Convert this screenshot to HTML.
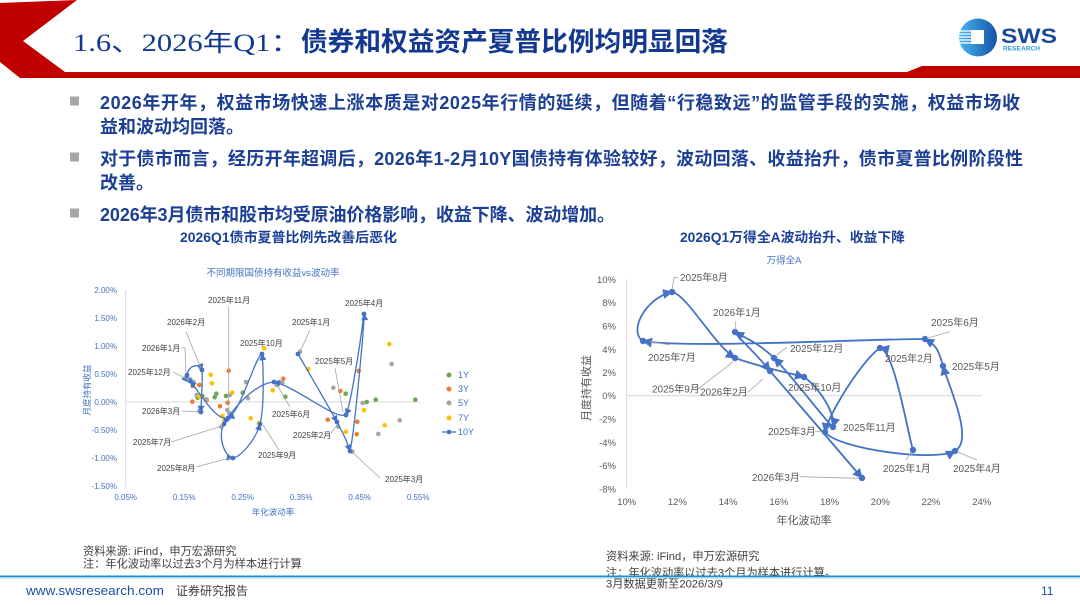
<!DOCTYPE html>
<html><head><meta charset="utf-8">
<style>
html,body{margin:0;padding:0;background:#fff;width:1080px;height:605px;overflow:hidden}
svg{display:block}
text{font-family:"Liberation Sans","Noto Sans CJK SC",sans-serif}
.lb{font-size:8px;fill:#404040}
.rb{font-size:10px;fill:#595959}
.ld{stroke:#a6a6a6;stroke-width:0.8;fill:none}
.s10{stroke:#4472c4;stroke-width:1.3;fill:none;marker-end:url(#a1)}
.sr{stroke:#4472c4;stroke-width:1.8;fill:none;marker-end:url(#a2)}
.g{fill:#6aa84f}.o{fill:#ed7d31}.gr{fill:#a5a5a5}.y{fill:#ffc000}
</style></head><body>
<svg width="1080" height="605" viewBox="0 0 1080 605" xmlns="http://www.w3.org/2000/svg">
<defs>
<marker id="a1" viewBox="0 0 10 10" refX="9" refY="5" markerWidth="7" markerHeight="7" markerUnits="userSpaceOnUse" orient="auto"><path d="M0,0 L10,5 L0,10 z" fill="#4472c4"/></marker>
<marker id="a2" viewBox="0 0 10 10" refX="9" refY="5" markerWidth="10" markerHeight="10" markerUnits="userSpaceOnUse" orient="auto"><path d="M0,0 L10,5 L0,10 z" fill="#4472c4"/></marker>
<linearGradient id="lg" x1="0" y1="0" x2="1" y2="0"><stop offset="0" stop-color="#45b6ef"/><stop offset="1" stop-color="#1553a5"/></linearGradient>
</defs>

<!-- header -->
<polygon points="0,3 77,0 23,41 65,72 907,72 922,66 1080,66 1080,78 20,78 0,62" fill="#c00000"/>
<text x="73" y="51" font-size="25" textLength="228" lengthAdjust="spacingAndGlyphs" fill="#12398f" style="font-family:'Liberation Serif','Noto Sans CJK SC',serif">1.6、2026年Q1：</text>
<text x="301" y="51" font-size="26.5" font-weight="bold" textLength="427" lengthAdjust="spacingAndGlyphs" fill="#12398f">债券和权益资产夏普比例均明显回落</text>

<!-- logo -->
<circle cx="978" cy="37.5" r="19" fill="url(#lg)"/>
<rect x="971" y="30" width="13" height="14" fill="#fff"/>
<g stroke="#fff" stroke-width="1.3">
<line x1="959" y1="31" x2="971" y2="31"/><line x1="959" y1="34" x2="971" y2="34"/><line x1="959" y1="37" x2="971" y2="37"/><line x1="959" y1="40" x2="971" y2="40"/><line x1="960" y1="43" x2="971" y2="43"/>
</g>
<text x="1001" y="43" font-size="21" font-weight="bold" fill="#184a9c" textLength="56" lengthAdjust="spacingAndGlyphs">SWS</text>
<text x="1003" y="50.5" font-size="6.5" font-weight="bold" fill="#2b9be0" textLength="37" lengthAdjust="spacingAndGlyphs">RESEARCH</text>

<!-- bullets -->
<rect x="70" y="96.5" width="9" height="9" fill="#a6a6a6"/>
<rect x="70" y="152.5" width="9" height="9" fill="#a6a6a6"/>
<rect x="70" y="208.5" width="9" height="9" fill="#a6a6a6"/>
<g font-size="18" font-weight="bold" fill="#1c3f94">
<text x="100" y="109" textLength="920">2026年开年，权益市场快速上涨本质是对2025年行情的延续，但随着“行稳致远”的监管手段的实施，权益市场收</text>
<text x="100" y="133">益和波动均回落。</text>
<text x="100" y="165" textLength="923">对于债市而言，经历开年超调后，2026年1-2月10Y国债持有体验较好，波动回落、收益抬升，债市夏普比例阶段性</text>
<text x="100" y="189">改善。</text>
<text x="100" y="221" textLength="515">2026年3月债市和股市均受原油价格影响，收益下降、波动增加。</text>
</g>

<!-- chart titles -->
<text x="180" y="242" font-size="13.5" font-weight="bold" fill="#1b3f97" textLength="217" lengthAdjust="spacingAndGlyphs">2026Q1债市夏普比例先改善后恶化</text>
<text x="680" y="242" font-size="13.5" font-weight="bold" fill="#1b3f97" textLength="225" lengthAdjust="spacingAndGlyphs">2026Q1万得全A波动抬升、收益下降</text>

<!-- ============ LEFT CHART ============ -->
<text x="273" y="276" font-size="9.5" fill="#4472c4" text-anchor="middle">不同期限国债持有收益vs波动率</text>
<line x1="125.7" y1="290" x2="125.7" y2="487" stroke="#d9d9d9" stroke-width="1"/>
<line x1="125.7" y1="402" x2="420" y2="402" stroke="#d9d9d9" stroke-width="1"/>
<g font-size="8" fill="#4472c4" text-anchor="end">
<text x="117" y="293">2.00%</text><text x="117" y="321">1.50%</text><text x="117" y="349">1.00%</text><text x="117" y="377">0.50%</text>
<text x="117" y="405">0.00%</text><text x="117" y="433">-0.50%</text><text x="117" y="461">-1.00%</text><text x="117" y="489">-1.50%</text>
</g>
<g font-size="8" fill="#4472c4" text-anchor="middle">
<text x="125.7" y="500">0.05%</text><text x="184.2" y="500">0.15%</text><text x="242.7" y="500">0.25%</text><text x="301.2" y="500">0.35%</text><text x="359.7" y="500">0.45%</text><text x="418.2" y="500">0.55%</text>
</g>
<text x="273" y="515" font-size="8.5" fill="#4472c4" text-anchor="middle">年化波动率</text>
<text transform="translate(90,390) rotate(-90)" font-size="8.5" fill="#4472c4" text-anchor="middle">月度持有收益</text>

<!-- scatter -->
<g>
<circle class="g" cx="216.3" cy="393.7" r="2.3"/><circle class="g" cx="214.7" cy="397.3" r="2.3"/><circle class="g" cx="226" cy="396" r="2.3"/><circle class="g" cx="242.7" cy="392.7" r="2.3"/><circle class="g" cx="285.3" cy="396.7" r="2.3"/><circle class="g" cx="202.3" cy="396" r="2.3"/><circle class="g" cx="197.7" cy="397.7" r="2.3"/><circle class="g" cx="345.7" cy="393.7" r="2.3"/><circle class="g" cx="366.7" cy="402" r="2.3"/><circle class="g" cx="375.7" cy="399.7" r="2.3"/><circle class="g" cx="415.3" cy="399.7" r="2.3"/>
<circle class="o" cx="228.7" cy="370.7" r="2.3"/><circle class="o" cx="199.3" cy="385" r="2.3"/><circle class="o" cx="192.3" cy="401.7" r="2.3"/><circle class="o" cx="220" cy="406.3" r="2.3"/><circle class="o" cx="227.7" cy="402.7" r="2.3"/><circle class="o" cx="283.3" cy="378.7" r="2.3"/><circle class="o" cx="206.7" cy="400" r="2.3"/><circle class="o" cx="358.7" cy="371" r="2.3"/><circle class="o" cx="340.3" cy="391" r="2.3"/><circle class="o" cx="327.7" cy="419.7" r="2.3"/><circle class="o" cx="357.3" cy="421.7" r="2.3"/><circle class="o" cx="356.7" cy="434.3" r="2.3"/><circle class="o" cx="192.7" cy="386" r="2.3"/>
<circle class="gr" cx="193.3" cy="381.7" r="2.3"/><circle class="gr" cx="196.7" cy="395" r="2.3"/><circle class="gr" cx="206" cy="399.3" r="2.3"/><circle class="gr" cx="230" cy="395" r="2.3"/><circle class="gr" cx="246" cy="382" r="2.3"/><circle class="gr" cx="248" cy="398.3" r="2.3"/><circle class="gr" cx="227.3" cy="410" r="2.3"/><circle class="gr" cx="229.3" cy="413.3" r="2.3"/><circle class="gr" cx="221.3" cy="426.7" r="2.3"/><circle class="gr" cx="199" cy="411" r="2.3"/><circle class="gr" cx="282.3" cy="382.7" r="2.3"/><circle class="gr" cx="276.7" cy="385" r="2.3"/><circle class="gr" cx="391.7" cy="364" r="2.3"/><circle class="gr" cx="333.3" cy="387.7" r="2.3"/><circle class="gr" cx="362.7" cy="403" r="2.3"/><circle class="gr" cx="399.7" cy="420.3" r="2.3"/><circle class="gr" cx="378.3" cy="434" r="2.3"/><circle class="gr" cx="338.3" cy="426.7" r="2.3"/><circle class="gr" cx="352.3" cy="451.7" r="2.3"/><circle class="gr" cx="300" cy="351.7" r="2.3"/><circle class="gr" cx="200.7" cy="367.5" r="2.3"/><circle class="gr" cx="190" cy="379" r="2.3"/>
<circle class="y" cx="210.7" cy="374.7" r="2.3"/><circle class="y" cx="212" cy="383.3" r="2.3"/><circle class="y" cx="199.3" cy="396.7" r="2.3"/><circle class="y" cx="232.3" cy="392.7" r="2.3"/><circle class="y" cx="264.3" cy="348.3" r="2.3"/><circle class="y" cx="272.7" cy="390.3" r="2.3"/><circle class="y" cx="250.7" cy="418.3" r="2.3"/><circle class="y" cx="259" cy="423" r="2.3"/><circle class="y" cx="222.3" cy="416" r="2.3"/><circle class="y" cx="224.3" cy="421" r="2.3"/><circle class="y" cx="389.3" cy="344" r="2.3"/><circle class="y" cx="308.3" cy="369" r="2.3"/><circle class="y" cx="364" cy="410.3" r="2.3"/><circle class="y" cx="384.7" cy="425.3" r="2.3"/><circle class="y" cx="345.7" cy="431.7" r="2.3"/>
</g>

<!-- 10Y path -->
<path class="s10" d="M298,354 C304.5,365.3 328.3,405.8 337,422"/>
<path class="s10" d="M337,422 C345.7,438.2 347,442 350,451"/>
<path class="s10" d="M350,451 C354.5,433 364.7,320 364,314"/>
<path class="s10" d="M364,314 C362,330 352,400 346,415"/>
<path class="s10" d="M346,415 C335,420 295,386 274,382"/>
<path class="s10" d="M274,382 C253.7,383.5 230.8,411.3 224,424"/>
<path class="s10" d="M224,424 C217,437 225,457 233,458"/>
<path class="s10" d="M233,458 C239,458 255.2,441.3 260,424"/>
<path class="s10" d="M260,424 C264.8,406.7 263,362 262,354"/>
<path class="s10" d="M262,354 C256.7,353 240,413.5 228,418"/>
<path class="s10" d="M228,418 C216,422.5 196.8,388 190,381"/>
<path class="s10" d="M190,381 C188,379 186,377 187,375"/>
<path class="s10" d="M187,375 C188,366 199,362 202,370"/>
<path class="s10" d="M202,370 C203,380 201,400 201,412"/>
<g fill="#4472c4">
<circle cx="298" cy="354" r="2.4"/><circle cx="337" cy="422" r="2.4"/><circle cx="350" cy="451" r="2.4"/><circle cx="364" cy="314" r="2.4"/><circle cx="346" cy="415" r="2.4"/><circle cx="274" cy="382" r="2.4"/><circle cx="224" cy="424" r="2.4"/><circle cx="233" cy="458" r="2.4"/><circle cx="260" cy="424" r="2.4"/><circle cx="262" cy="354" r="2.4"/><circle cx="228" cy="418" r="2.4"/><circle cx="190" cy="381" r="2.4"/><circle cx="187" cy="375" r="2.4"/><circle cx="202" cy="370" r="2.4"/><circle cx="201" cy="412" r="2.4"/>
</g>

<!-- left leaders -->
<path class="ld" d="M228.7,306 V415"/>
<path class="ld" d="M186,331.7 L200.7,367.7"/>
<path class="ld" d="M181,348 H185 L186,374"/>
<path class="ld" d="M173,372 L189,380"/>
<path class="ld" d="M181.7,411 L198,411.7"/>
<path class="ld" d="M310,330 L300,351.7"/>
<path class="ld" d="M335,368 L343,412"/>
<path class="ld" d="M290,407 L277,385"/>
<path class="ld" d="M331,433 L337,425"/>
<path class="ld" d="M171,442 L222,426"/>
<path class="ld" d="M263,425 L279,450"/>
<path class="ld" d="M196.7,466.7 L230,458"/>
<path class="ld" d="M380,478 L352,452"/>

<!-- left labels -->
<text class="lb" x="208" y="303">2025年11月</text>
<text class="lb" x="167" y="325">2026年2月</text>
<text class="lb" x="142" y="351">2026年1月</text>
<text class="lb" x="128" y="375">2025年12月</text>
<text class="lb" x="142" y="414">2026年3月</text>
<text class="lb" x="240" y="346">2025年10月</text>
<text class="lb" x="292" y="325">2025年1月</text>
<text class="lb" x="345" y="306">2025年4月</text>
<text class="lb" x="315" y="364">2025年5月</text>
<text class="lb" x="272" y="417">2025年6月</text>
<text class="lb" x="293" y="438">2025年2月</text>
<text class="lb" x="133" y="445">2025年7月</text>
<text class="lb" x="258" y="458">2025年9月</text>
<text class="lb" x="157" y="471">2025年8月</text>
<text class="lb" x="385" y="482">2025年3月</text>

<!-- legend -->
<circle class="g" cx="449" cy="375" r="2.5"/>
<circle class="o" cx="449" cy="389" r="2.5"/>
<circle class="gr" cx="449" cy="403" r="2.5"/>
<circle class="y" cx="449" cy="418" r="2.5"/>
<line x1="442" y1="432" x2="456" y2="432" stroke="#4472c4" stroke-width="1.3"/>
<circle cx="449" cy="432" r="2.3" fill="#4472c4"/>
<g font-size="9" fill="#4472c4">
<text x="458" y="378">1Y</text><text x="458" y="392">3Y</text><text x="458" y="406">5Y</text><text x="458" y="421">7Y</text><text x="458" y="435">10Y</text>
</g>

<!-- ============ RIGHT CHART ============ -->
<text x="784" y="263.5" font-size="9.5" fill="#4472c4" text-anchor="middle">万得全A</text>
<line x1="626.7" y1="279" x2="626.7" y2="489" stroke="#d9d9d9" stroke-width="1"/>
<line x1="626.7" y1="395.7" x2="982" y2="395.7" stroke="#d9d9d9" stroke-width="1.2"/>
<g font-size="9.5" fill="#595959" text-anchor="end">
<text x="616" y="282.8">10%</text><text x="616" y="306.2">8%</text><text x="616" y="329.5">6%</text><text x="616" y="352.8">4%</text><text x="616" y="376.2">2%</text>
<text x="616" y="399.2">0%</text><text x="616" y="422.5">-2%</text><text x="616" y="445.8">-4%</text><text x="616" y="469.2">-6%</text><text x="616" y="492.5">-8%</text>
</g>
<g font-size="9.5" fill="#595959" text-anchor="middle">
<text x="626.7" y="505">10%</text><text x="677.4" y="505">12%</text><text x="728.1" y="505">14%</text><text x="778.9" y="505">16%</text><text x="829.6" y="505">18%</text><text x="880.3" y="505">20%</text><text x="931" y="505">22%</text><text x="981.7" y="505">24%</text>
</g>
<text x="804" y="524" font-size="11" fill="#595959" text-anchor="middle">年化波动率</text>
<text transform="translate(590,388) rotate(-90)" font-size="11" fill="#595959" text-anchor="middle">月度持有收益</text>

<path class="sr" d="M913,450 C907.5,433 894.7,351 880,348"/>
<path class="sr" d="M880,348 C862,360 828,415 825,432"/>
<path class="sr" d="M825,432 C837.5,449.2 935.3,462 955,451"/>
<path class="sr" d="M955,451 C974.7,440 948,384.7 943,366"/>
<path class="sr" d="M943,366 C938,347.3 935,345 925,339"/>
<path class="sr" d="M925,339 C875,338.5 685.2,348.8 643,341"/>
<path class="sr" d="M643,341 C628,332 645,298 672,292"/>
<path class="sr" d="M672,292 C687.3,294.8 713,343.8 735,358"/>
<path class="sr" d="M735,358 C757,366 785,372 804,377"/>
<path class="sr" d="M804,377 C820.3,388.5 836,415 833,427"/>
<path class="sr" d="M833,427 C828,423.8 790.3,373.8 774,358"/>
<path class="sr" d="M774,358 C757.7,342.2 745,338 735,332"/>
<path class="sr" d="M735,332 C738,338 755,352 770,371"/>
<path class="sr" d="M770,371 C791.2,395.3 846.7,460.2 862,478"/>
<g fill="#4472c4">
<circle cx="913" cy="450" r="3.2"/><circle cx="880" cy="348" r="3.2"/><circle cx="825" cy="432" r="3.2"/><circle cx="955" cy="451" r="3.2"/><circle cx="943" cy="366" r="3.2"/><circle cx="925" cy="339" r="3.2"/><circle cx="643" cy="341" r="3.2"/><circle cx="672" cy="292" r="3.2"/><circle cx="735" cy="358" r="3.2"/><circle cx="804" cy="377" r="3.2"/><circle cx="833" cy="427" r="3.2"/><circle cx="774" cy="358" r="3.2"/><circle cx="735" cy="332" r="3.2"/><circle cx="770" cy="371" r="3.2"/><circle cx="862" cy="478" r="3.2"/>
</g>

<!-- right leaders -->
<path class="ld" d="M678,277.7 H674 L672,289"/>
<path class="ld" d="M650,341.7 L670,345"/>
<path class="ld" d="M735.7,321 V330"/>
<path class="ld" d="M786.7,347.3 L776.7,355"/>
<path class="ld" d="M696.7,390 L733.3,361.7"/>
<path class="ld" d="M748,392 L763,379"/>
<path class="ld" d="M927,338.3 L950,331.7"/>
<path class="ld" d="M815,431.7 H822"/>
<path class="ld" d="M911,452 L906,460"/>
<path class="ld" d="M957,451.7 L977,460"/>
<path class="ld" d="M800,476.7 L859,478.3"/>

<!-- right labels -->
<text class="rb" x="680" y="281">2025年8月</text>
<text class="rb" x="648" y="361">2025年7月</text>
<text class="rb" x="713" y="316">2026年1月</text>
<text class="rb" x="790" y="352">2025年12月</text>
<text class="rb" x="652" y="392.5">2025年9月</text>
<text class="rb" x="700" y="395.5">2026年2月</text>
<text class="rb" x="788" y="391">2025年10月</text>
<text class="rb" x="931" y="326">2025年6月</text>
<text class="rb" x="885" y="362">2025年2月</text>
<text class="rb" x="952" y="370">2025年5月</text>
<text class="rb" x="843" y="431">2025年11月</text>
<text class="rb" x="768" y="435">2025年3月</text>
<text class="rb" x="883" y="472">2025年1月</text>
<text class="rb" x="953" y="472">2025年4月</text>
<text class="rb" x="752" y="481">2026年3月</text>

<!-- source notes -->
<g font-size="11.2" fill="#404040">
<text x="83" y="555">资料来源: iFind，申万宏源研究</text>
<text x="83" y="567.5">注：年化波动率以过去3个月为样本进行计算</text>
<text x="606" y="560">资料来源: iFind，申万宏源研究</text>
<text x="606" y="576.5">注：年化波动率以过去3个月为样本进行计算。</text>
<text x="606" y="587.5">3月数据更新至2026/3/9</text>
</g>

<!-- footer -->
<rect x="0" y="575.5" width="1080" height="1.6" fill="#1f8ed6"/>
<rect x="0" y="577.1" width="1080" height="1.4" fill="#a6d4f0"/>
<text x="26" y="595" font-size="12.5" fill="#1e4fa0" textLength="138" lengthAdjust="spacingAndGlyphs">www.swsresearch.com</text>
<text x="176" y="595" font-size="12" fill="#404040">证券研究报告</text>
<text x="1041" y="595" font-size="12" fill="#1e4fa0">11</text>
</svg>
</body></html>
